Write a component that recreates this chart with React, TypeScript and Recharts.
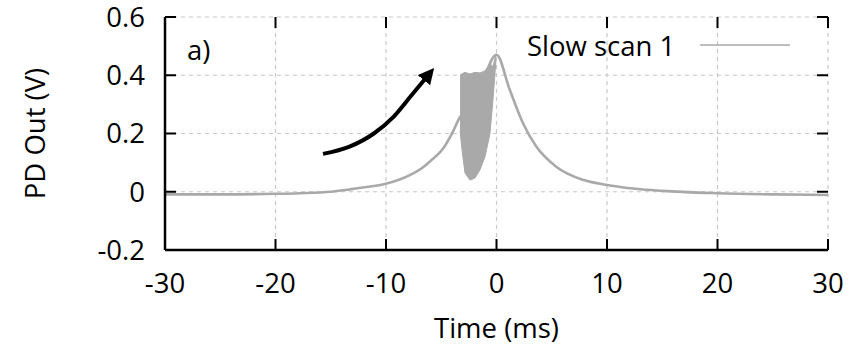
import React from 'react';
import { ComposedChart, Line, Area, XAxis, YAxis, CartesianGrid, ReferenceLine } from 'recharts';

// Main trace (Slow scan 1): time in ms, PD output in V
const scanTime = [-30, -25, -20, -17.8, -15, -13.3, -11.6, -10.2, -8.7, -7.8, -6.8, -6.0, -4.8, -3.9, -3.4, -2.0, 0, 1.2, 2.4, 3.6, 5.4, 7.9, 10, 12.1, 15, 20, 25, 30];
const scanVolts = [-0.009, -0.009, -0.007, -0.005, 0.0, 0.008, 0.017, 0.026, 0.043, 0.058, 0.08, 0.105, 0.15, 0.21, 0.25, 0.3, 0.47, 0.35, 0.235, 0.155, 0.086, 0.04, 0.023, 0.012, 0.003, -0.005, -0.009, -0.011];

// Oscillation band envelope (fast fringes between -3.3 ms and 0 ms)
const bandTime = [-3.3, -3.12, -2.85, -2.4, -1.95, -1.5, -1.04, -0.59, -0.32, -0.05];
const bandLow = [0.21, 0.143, 0.064, 0.04, 0.047, 0.075, 0.12, 0.2, 0.315, 0.45];
const bandHigh = [0.4, 0.405, 0.41, 0.404, 0.41, 0.408, 0.415, 0.44, 0.43, 0.47];

// Annotation arrow path
const arrowTime = [-15.7, -13.3, -11.1, -9.3, -7.8, -6.45];
const arrowVolts = [0.13, 0.155, 0.2, 0.258, 0.326, 0.388];

const xTicks = [-30, -20, -10, 0, 10, 20, 30];
const yTicks = [-0.2, 0, 0.2, 0.4, 0.6];
const seriesName = 'Slow scan 1';
const panelLabel = 'a)';
const xLabel = 'Time (ms)';
const yLabel = 'PD Out (V)';

const scanData = scanTime.map((t, i) => ({ t, v: scanVolts[i] }));
const bandData = bandTime.map((t, i) => ({ t, range: [bandLow[i], bandHigh[i]] }));
const arrowData = arrowTime.map((t, i) => ({ t, a: arrowVolts[i] }));

const FONT = '"Open Sans", sans-serif';
const GRAY = '#a9a9a9';
const FS = 27.5;
const TICK_LEN = 11;

const fmtY = (v: number) => (v === 0 ? '0' : String(Math.round(v * 10) / 10));

const frameLine = { stroke: '#000', strokeWidth: 2.5 };
const NoLabel = () => <g />;

// Inward tick marks at both ends of a vertical reference line (x ticks)
const XTickMarks = (p: any) => {
  const top = Math.min(p.y1, p.y2);
  const bottom = Math.max(p.y1, p.y2);
  return (
    <g>
      <line x1={p.x1} x2={p.x1} y1={bottom} y2={bottom - TICK_LEN} stroke="#000" strokeWidth={2} />
      <line x1={p.x1} x2={p.x1} y1={top} y2={top + TICK_LEN} stroke="#000" strokeWidth={2} />
    </g>
  );
};

// Inward tick marks at both ends of a horizontal reference line (y ticks)
const YTickMarks = (p: any) => {
  const left = Math.min(p.x1, p.x2);
  const right = Math.max(p.x1, p.x2);
  return (
    <g>
      <line y1={p.y1} y2={p.y1} x1={left} x2={left + TICK_LEN} stroke="#000" strokeWidth={2} />
      <line y1={p.y1} y2={p.y1} x1={right} x2={right - TICK_LEN} stroke="#000" strokeWidth={2} />
    </g>
  );
};

export default function App() {
  return (
    <div style={{ position: 'absolute', left: 0, top: 0, width: 868, height: 348, fontFamily: FONT, background: '#fff' }}>
      <svg width={0} height={0} style={{ position: 'absolute' }}>
        <defs>
          <marker id="arrowHead" markerUnits="userSpaceOnUse" markerWidth={20} markerHeight={20} refX={2} refY={8.5} orient="auto">
            <path d="M0,0.5 L16,8.5 L0,16.5 Z" fill="#000" />
          </marker>
        </defs>
      </svg>
      <ComposedChart width={868} height={348} margin={{ top: 17, right: 40, bottom: 0, left: 0 }}>
        <CartesianGrid stroke="#c8c8c8" strokeDasharray="4 4" strokeWidth={1.2} />
        <XAxis
          dataKey="t"
          type="number"
          domain={[-30, 30]}
          ticks={xTicks}
          allowDataOverflow
          height={98}
          axisLine={frameLine}
          tickLine={false}
          tickSize={0}
          tickMargin={23}
          tick={{ fill: '#000', fontSize: FS, fontFamily: FONT }}
          label={{ value: xLabel, position: 'insideBottom', offset: 10, fill: '#000', fontSize: FS, fontFamily: FONT }}
        />
        <XAxis
          xAxisId="top"
          orientation="top"
          mirror
          dataKey="t"
          type="number"
          domain={[-30, 30]}
          ticks={xTicks}
          height={0}
          axisLine={frameLine}
          tickLine={false}
          tick={NoLabel}
        />
        <YAxis
          type="number"
          domain={[-0.2, 0.6]}
          ticks={yTicks}
          allowDataOverflow
          width={165}
          axisLine={frameLine}
          tickLine={false}
          tickSize={0}
          tickMargin={20}
          tickFormatter={fmtY}
          tick={{ fill: '#000', fontSize: FS, fontFamily: FONT }}
          label={{ value: yLabel, angle: -90, position: 'insideLeft', offset: 35, fill: '#000', fontSize: FS, fontFamily: FONT, style: { textAnchor: 'middle' } }}
        />
        <YAxis
          yAxisId="right"
          orientation="right"
          mirror
          type="number"
          domain={[-0.2, 0.6]}
          ticks={yTicks}
          width={0}
          axisLine={frameLine}
          tickLine={false}
          tick={NoLabel}
        />
        {xTicks.map((t) => (
          <ReferenceLine key={`xt${t}`} x={t} stroke="none" shape={XTickMarks} />
        ))}
        {yTicks.map((v) => (
          <ReferenceLine key={`yt${v}`} y={v} stroke="none" shape={YTickMarks} />
        ))}
        <Area
          data={bandData}
          dataKey="range"
          type="linear"
          stroke={GRAY}
          strokeWidth={1}
          fill={GRAY}
          fillOpacity={1}
          isAnimationActive={false}
          dot={false}
          activeDot={false}
        />
        <Line
          data={scanData}
          dataKey="v"
          type="monotone"
          stroke={GRAY}
          strokeWidth={2.6}
          dot={false}
          activeDot={false}
          isAnimationActive={false}
        />
        <Line
          data={arrowData}
          dataKey="a"
          type="monotone"
          stroke="#000"
          strokeWidth={4}
          dot={false}
          activeDot={false}
          isAnimationActive={false}
          markerEnd="url(#arrowHead)"
        />
      </ComposedChart>
      <div style={{ position: 'absolute', left: 187, top: 36, fontSize: FS, lineHeight: 1, color: '#000' }}>{panelLabel}</div>
      <div style={{ position: 'absolute', left: 527, top: 32, fontSize: FS, lineHeight: 1, color: '#000', whiteSpace: 'nowrap' }}>{seriesName}</div>
      <svg width={94} height={6} style={{ position: 'absolute', left: 698, top: 42 }}>
        <line x1={2} y1={3} x2={92} y2={3} stroke={GRAY} strokeWidth={1.6} />
      </svg>
    </div>
  );
}
